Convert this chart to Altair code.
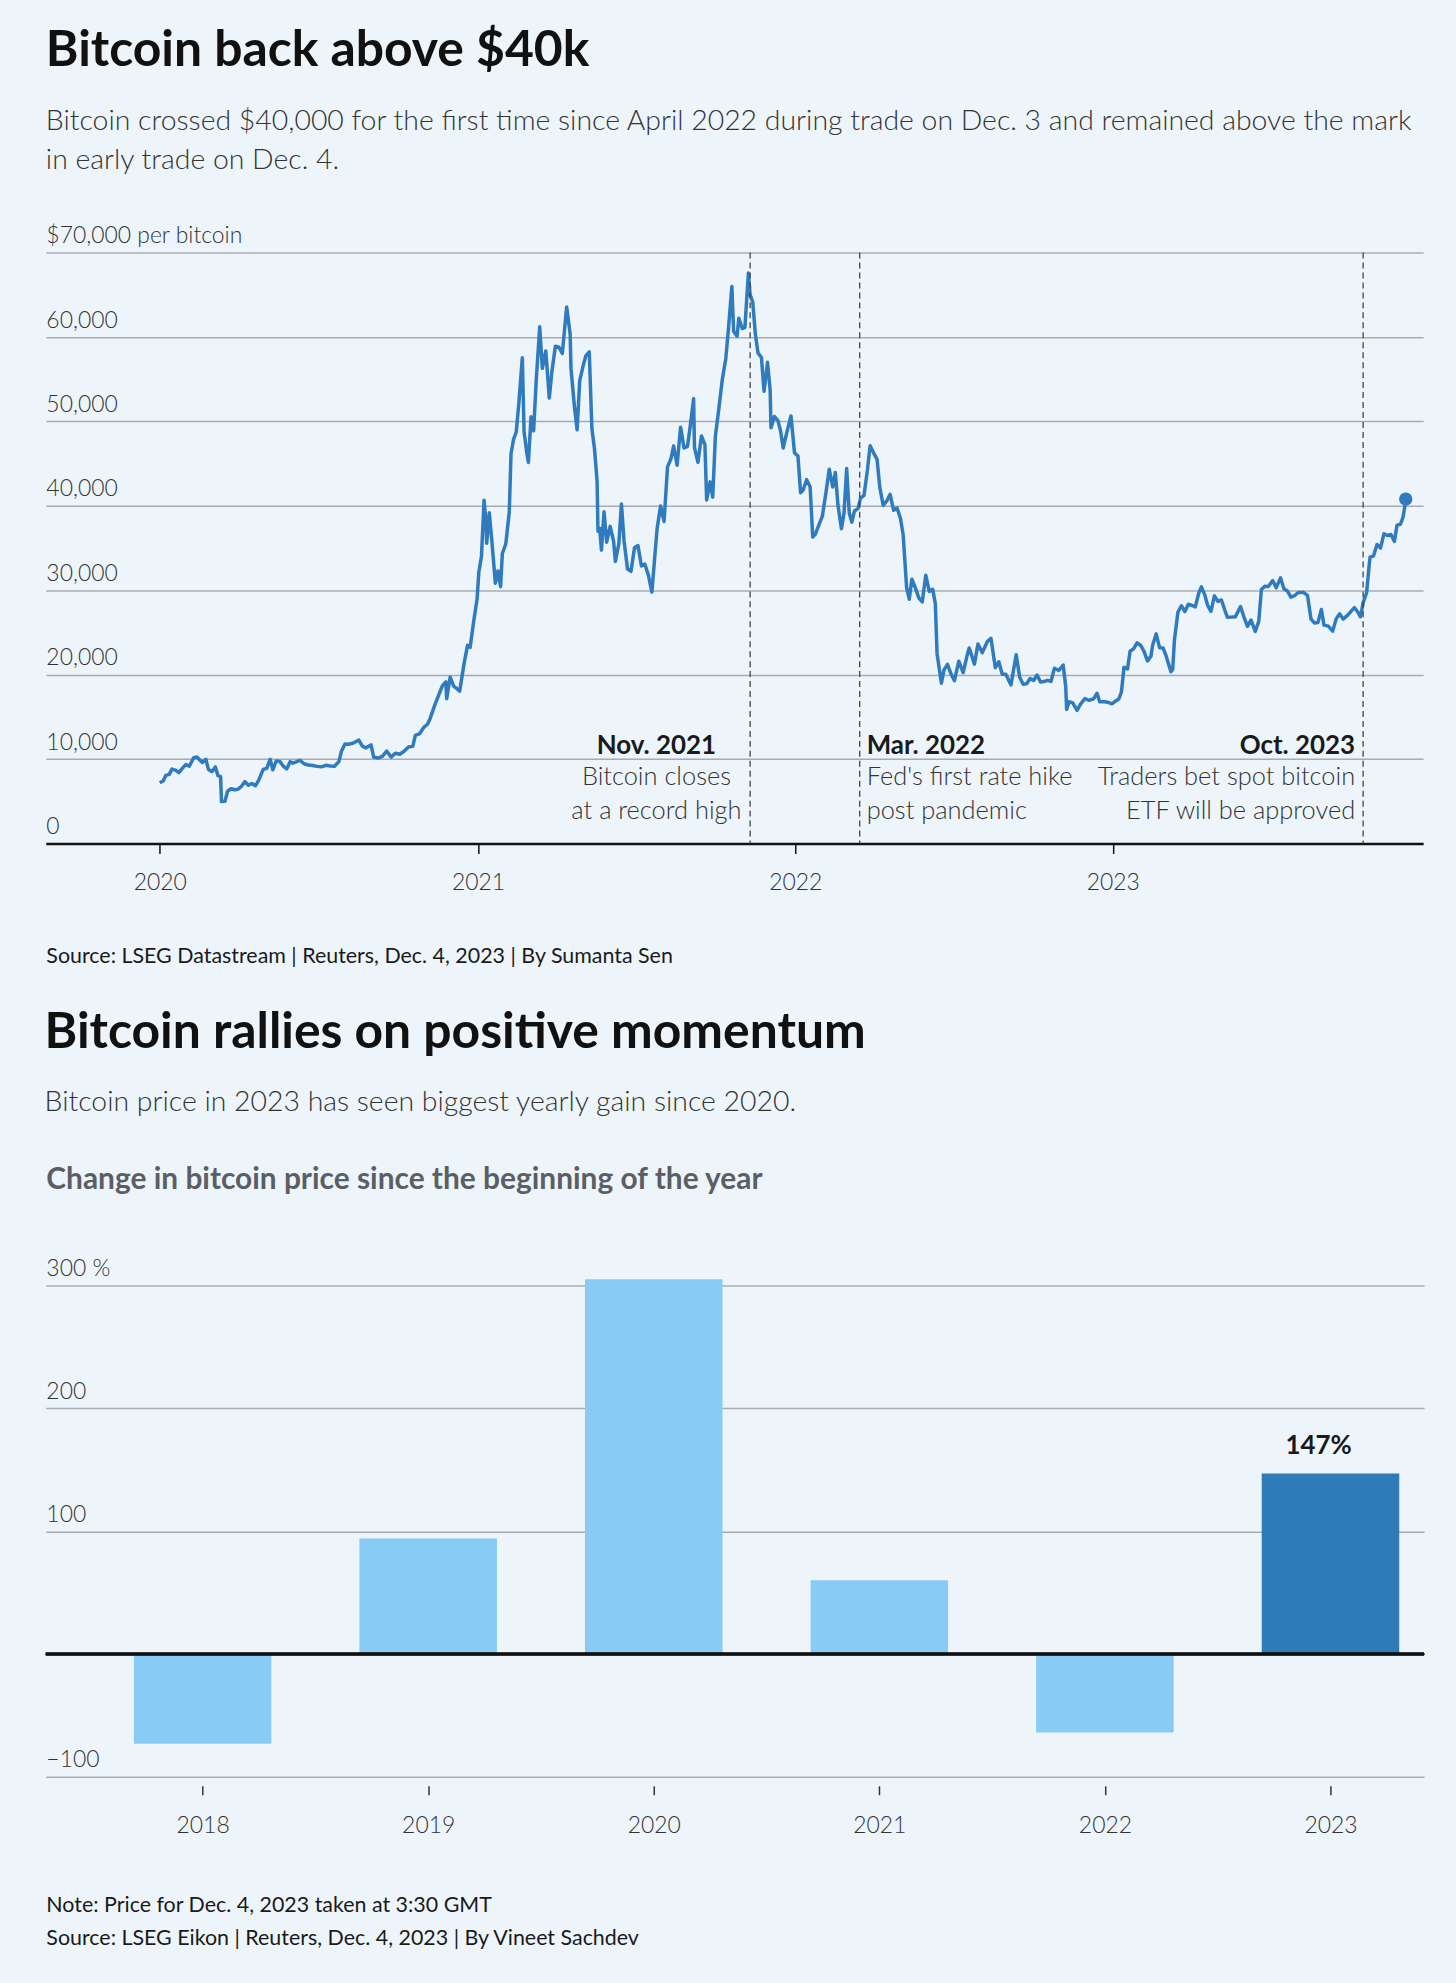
import altair as alt
import pandas as pd

# ---------------- Bitcoin price (USD), 2020 - Dec. 4, 2023 ----------------
price_dates = [
    "2020-01-01", "2020-01-05", "2020-01-08", "2020-01-12", "2020-01-15", "2020-01-19", "2020-01-23",
    "2020-01-27", "2020-01-31", "2020-02-04", "2020-02-09", "2020-02-13", "2020-02-16", "2020-02-19",
    "2020-02-23", "2020-02-26", "2020-03-01", "2020-03-05", "2020-03-08", "2020-03-11", "2020-03-12",
    "2020-03-16", "2020-03-19", "2020-03-23", "2020-03-27", "2020-03-31", "2020-04-04", "2020-04-08",
    "2020-04-12", "2020-04-16", "2020-04-20", "2020-04-24", "2020-04-29", "2020-05-03", "2020-05-07",
    "2020-05-10", "2020-05-14", "2020-05-18", "2020-05-22", "2020-05-26", "2020-05-30", "2020-06-02",
    "2020-06-06", "2020-06-10", "2020-06-15", "2020-06-20", "2020-06-25", "2020-06-30", "2020-07-05",
    "2020-07-10", "2020-07-15", "2020-07-20", "2020-07-25", "2020-07-28", "2020-08-01", "2020-08-05",
    "2020-08-10", "2020-08-17", "2020-08-21", "2020-08-25", "2020-08-31", "2020-09-03", "2020-09-08",
    "2020-09-13", "2020-09-18", "2020-09-23", "2020-09-28", "2020-10-03", "2020-10-08", "2020-10-13",
    "2020-10-18", "2020-10-21", "2020-10-26", "2020-10-31", "2020-11-04", "2020-11-07", "2020-11-12",
    "2020-11-17", "2020-11-21", "2020-11-25", "2020-11-26", "2020-11-30", "2020-12-04", "2020-12-08",
    "2020-12-11", "2020-12-16", "2020-12-20", "2020-12-23", "2020-12-27", "2020-12-31",
    "2021-01-02", "2021-01-05", "2021-01-08", "2021-01-10", "2021-01-11", "2021-01-14", "2021-01-17",
    "2021-01-21", "2021-01-24", "2021-01-27", "2021-01-29", "2021-02-02", "2021-02-06", "2021-02-08",
    "2021-02-11", "2021-02-14", "2021-02-17", "2021-02-21", "2021-02-23", "2021-02-26", "2021-02-28",
    "2021-03-03", "2021-03-06", "2021-03-09", "2021-03-13", "2021-03-16", "2021-03-20", "2021-03-24",
    "2021-03-27", "2021-03-31", "2021-04-04", "2021-04-08", "2021-04-13", "2021-04-17", "2021-04-18",
    "2021-04-22", "2021-04-25", "2021-04-28", "2021-05-02", "2021-05-05", "2021-05-09", "2021-05-12",
    "2021-05-15", "2021-05-18", "2021-05-19", "2021-05-21", "2021-05-23", "2021-05-26", "2021-05-29",
    "2021-06-02", "2021-06-06", "2021-06-08", "2021-06-12", "2021-06-15", "2021-06-18", "2021-06-22",
    "2021-06-26", "2021-06-30", "2021-07-04", "2021-07-08", "2021-07-12", "2021-07-16", "2021-07-20",
    "2021-07-23", "2021-07-26", "2021-07-30", "2021-08-03", "2021-08-07", "2021-08-11", "2021-08-14",
    "2021-08-18", "2021-08-22", "2021-08-26", "2021-08-30", "2021-09-02", "2021-09-06", "2021-09-07",
    "2021-09-11", "2021-09-15", "2021-09-19", "2021-09-21", "2021-09-25", "2021-09-28", "2021-10-01",
    "2021-10-05", "2021-10-09", "2021-10-13", "2021-10-16", "2021-10-20", "2021-10-22", "2021-10-26",
    "2021-10-28", "2021-11-01", "2021-11-04", "2021-11-08", "2021-11-10", "2021-11-13", "2021-11-16",
    "2021-11-19", "2021-11-23", "2021-11-26", "2021-11-30", "2021-12-03", "2021-12-04", "2021-12-08",
    "2021-12-12", "2021-12-15", "2021-12-18", "2021-12-22", "2021-12-27", "2021-12-31",
    "2022-01-04", "2022-01-07", "2022-01-10", "2022-01-14", "2022-01-18", "2022-01-21", "2022-01-24",
    "2022-01-28", "2022-02-01", "2022-02-05", "2022-02-09", "2022-02-13", "2022-02-16", "2022-02-19",
    "2022-02-23", "2022-02-26", "2022-03-01", "2022-03-04", "2022-03-07", "2022-03-10", "2022-03-14",
    "2022-03-17", "2022-03-21", "2022-03-25", "2022-03-28", "2022-04-01", "2022-04-05", "2022-04-08",
    "2022-04-12", "2022-04-16", "2022-04-20", "2022-04-24", "2022-04-28", "2022-05-02", "2022-05-05",
    "2022-05-09", "2022-05-12", "2022-05-15", "2022-05-19", "2022-05-23", "2022-05-27", "2022-05-31",
    "2022-06-04", "2022-06-08", "2022-06-11", "2022-06-13", "2022-06-16", "2022-06-18", "2022-06-21",
    "2022-06-25", "2022-06-29", "2022-07-03", "2022-07-08", "2022-07-13", "2022-07-18", "2022-07-20",
    "2022-07-26", "2022-07-30", "2022-08-04", "2022-08-10", "2022-08-14", "2022-08-19", "2022-08-23",
    "2022-08-27", "2022-08-31", "2022-09-06", "2022-09-12", "2022-09-16", "2022-09-20", "2022-09-24",
    "2022-09-28", "2022-10-02", "2022-10-06", "2022-10-10", "2022-10-14", "2022-10-18", "2022-10-22",
    "2022-10-26", "2022-10-31", "2022-11-05", "2022-11-08", "2022-11-09", "2022-11-12", "2022-11-16",
    "2022-11-21", "2022-11-25", "2022-11-30", "2022-12-05", "2022-12-10", "2022-12-14", "2022-12-17",
    "2022-12-22", "2022-12-27", "2022-12-31",
    "2023-01-04", "2023-01-08", "2023-01-11", "2023-01-14", "2023-01-18", "2023-01-21", "2023-01-25",
    "2023-01-29", "2023-02-02", "2023-02-06", "2023-02-10", "2023-02-14", "2023-02-16", "2023-02-20",
    "2023-02-24", "2023-02-28", "2023-03-03", "2023-03-09", "2023-03-11", "2023-03-13", "2023-03-17",
    "2023-03-21", "2023-03-25", "2023-03-29", "2023-04-02", "2023-04-06", "2023-04-10", "2023-04-13",
    "2023-04-17", "2023-04-20", "2023-04-24", "2023-04-28", "2023-05-02", "2023-05-06", "2023-05-10",
    "2023-05-13", "2023-05-18", "2023-05-22", "2023-05-28", "2023-06-01", "2023-06-05", "2023-06-09",
    "2023-06-14", "2023-06-18", "2023-06-21", "2023-06-25", "2023-06-29", "2023-07-04", "2023-07-08",
    "2023-07-13", "2023-07-17", "2023-07-21", "2023-07-25", "2023-07-29", "2023-08-02", "2023-08-08",
    "2023-08-13", "2023-08-17", "2023-08-21", "2023-08-25", "2023-08-29", "2023-09-01", "2023-09-06",
    "2023-09-11", "2023-09-15", "2023-09-19", "2023-09-23", "2023-09-28", "2023-10-02", "2023-10-06",
    "2023-10-10", "2023-10-13", "2023-10-16", "2023-10-20", "2023-10-23", "2023-10-24", "2023-10-28",
    "2023-11-01", "2023-11-05", "2023-11-09", "2023-11-13", "2023-11-17", "2023-11-21", "2023-11-24",
    "2023-11-28", "2023-12-01", "2023-12-03", "2023-12-04",
]
price_usd = [
    7200, 7410, 8080, 8190, 8820, 8700, 8390,
    8900, 9350, 9160, 10160, 10240, 9900, 9600,
    9980, 8780, 8520, 9070, 8040, 7930, 4970,
    5010, 6190, 6490, 6370, 6440, 6780, 7330,
    6910, 7100, 6840, 7550, 8780, 8900, 9980,
    8720, 9790, 9730, 9180, 8840, 9700, 9520,
    9670, 9870, 9450, 9300, 9250, 9140, 9080,
    9270, 9190, 9160, 9700, 10930, 11800, 11760,
    11880, 12250, 11530, 11330, 11680, 10240, 10130,
    10330, 10950, 10240, 10700, 10570, 10930, 11430,
    11510, 12820, 13030, 13800, 14130, 14820, 16300,
    17650, 18680, 19150, 17150, 19700, 18650, 18320,
    18060, 21310, 23480, 23240, 26270, 28990,
    32170, 33990, 40670, 38350, 35570, 39190, 35790,
    30830, 32290, 30430, 34320, 35510, 39270, 46200,
    47910, 48720, 52150, 57540, 48820, 46340, 45140,
    50540, 48880, 54880, 61200, 56290, 58350, 52770,
    55880, 58910, 58790, 58050, 63550, 60370, 56220,
    51700, 49000, 54830, 56620, 57750, 58250, 49150,
    46760, 42910, 37000, 37340, 34770, 39290, 35690,
    37570, 35800, 33420, 35500, 40220, 35840, 32510,
    32240, 35040, 35290, 32880, 33090, 31780, 29790,
    33580, 37280, 39990, 38150, 44610, 45590, 47080,
    44800, 49320, 46850, 47050, 49330, 52700, 46870,
    45160, 48270, 47260, 40690, 42840, 41030, 48200,
    51510, 54970, 57430, 60860, 65990, 60690, 60100,
    62210, 61000, 61130, 67570, 64990, 64160, 60370,
    58120, 57570, 53570, 57000, 53740, 49250, 50580,
    50100, 48880, 46850, 48620, 50640, 46300,
    45900, 41560, 41870, 43100, 42250, 36300, 36650,
    37710, 38740, 41410, 44340, 42240, 43940, 40090,
    37300, 39140, 44420, 39150, 38060, 39390, 39670,
    40920, 41250, 44330, 47130, 46280, 45500, 42280,
    40070, 40550, 41370, 39470, 39740, 38470, 36550,
    30300, 28940, 31300, 30300, 29100, 28630, 31790,
    29860, 30110, 28420, 22490, 20380, 19000, 20570,
    21230, 20100, 19300, 21600, 20250, 22470, 23170,
    21250, 23630, 22610, 23960, 24310, 20830, 21530,
    20040, 20050, 18790, 22370, 19700, 18870, 18920,
    19540, 19310, 19960, 19130, 19180, 19330, 19200,
    20770, 20500, 21150, 18540, 15880, 16800, 16670,
    15780, 16520, 17170, 16970, 17130, 17800, 16780,
    16830, 16710, 16550,
    16850, 17120, 17940, 20880, 20680, 22780, 23060,
    23770, 23490, 22760, 21630, 22200, 23520, 24830,
    23180, 23150, 22350, 20360, 20630, 24110, 27400,
    28170, 27480, 28350, 28200, 28030, 29670, 30400,
    29430, 28250, 27510, 29340, 28680, 28850, 27630,
    26800, 26820, 26850, 28070, 26820, 25730, 26480,
    25120, 26340, 30080, 30480, 30450, 31150, 30290,
    31470, 30140, 29900, 29180, 29350, 29700, 29770,
    29400, 26620, 26120, 26170, 27730, 25870, 25750,
    25160, 26610, 27210, 26580, 27030, 27500, 27950,
    27390, 26860, 28500, 29700, 33000, 33930, 34080,
    35420, 35010, 36700, 36490, 36600, 35790, 37720,
    37820, 38690, 39970, 40800,
]

# Event annotations on the price chart
event_dates = ["2021-11-10", "2022-03-16", "2023-10-16"]
event_heads = ["Nov. 2021", "Mar. 2022", "Oct. 2023"]
event_notes = [
    ["Bitcoin closes", "at a record high"],
    ["Fed's first rate hike", "post pandemic"],
    ["Traders bet spot bitcoin", "ETF will be approved"],
]

price_ticks = [0, 10000, 20000, 30000, 40000, 50000, 60000, 70000]
year_starts = [2020, 2021, 2022, 2023]

# ---------------- Yearly change (%) ----------------
bar_years = [2018, 2019, 2020, 2021, 2022, 2023]
bar_change = [-73, 94, 305, 60, -64, 147]
change_ticks = [-100, 0, 100, 200, 300]

# ---------------- Styling ----------------
FONT = "Lato"
BG = "#edf5fb"
LINE_BLUE = "#2f7bbd"
LIGHT_BAR = "#88cbf5"
DARK_BAR = "#2e7bb8"
GRID = "#a7acb1"
INK = "#1a1a1a"
TEXT = "#333333"

W1, H1 = 1382, 593
W2, H2 = 1383, 493

price_df = pd.DataFrame({"date": price_dates, "price": price_usd})
last_df = price_df.tail(1)
events_df = pd.DataFrame({"date": event_dates, "head": event_heads,
                          "note": event_notes})
bars_df = pd.DataFrame({"year": bar_years, "change": bar_change})
bars_df["label"] = bars_df["change"].astype(str) + "%"

x_time = alt.X(
    "date:T",
    scale=alt.Scale(domain=["2019-08-23", "2023-12-24"], padding=0),
    axis=alt.Axis(
        values=[alt.DateTime(year=y, month=1, date=1) for y in year_starts],
        format="%Y", grid=False, domain=True, domainColor="#111111", domainWidth=2.5,
        ticks=True, tickSize=10, tickColor="#111111", tickWidth=1.5,
        labelFont=FONT, labelFontSize=23, labelFontWeight=300, labelColor=TEXT,
        labelPadding=18,
        title="Source: LSEG Datastream | Reuters, Dec. 4, 2023 | By Sumanta Sen",
        titleFont=FONT, titleFontSize=21.5, titleFontWeight="normal", titleColor=INK,
        titleAnchor="start", titleAlign="left", titleBaseline="alphabetic",
        titleX=0, titleY=119,
    ),
)
y_price = alt.Y(
    "price:Q",
    scale=alt.Scale(domain=[0, 70000], nice=False),
    axis=alt.Axis(
        values=price_ticks, grid=True, gridColor=GRID, gridWidth=1.5,
        domain=False, ticks=False, tickSize=0,
        labelAlign="left", labelBaseline="alphabetic", labelOffset=-10, labelPadding=0,
        labelLimit=0,
        labelFont=FONT, labelFontSize=23, labelFontWeight=300, labelColor=TEXT,
        labelExpr="datum.value == 70000 ? '$70,000 per bitcoin' : format(datum.value, ',')",
        title=None,
    ),
)

price_line = alt.Chart(price_df).mark_line(
    color=LINE_BLUE, strokeWidth=3.5, strokeJoin="round"
).encode(x=x_time, y=y_price)

end_dot = alt.Chart(last_df).mark_circle(color=LINE_BLUE, size=180, opacity=1).encode(
    x="date:T", y="price:Q"
)

event_rules = alt.Chart(events_df).mark_rule(
    color="#444444", strokeWidth=1.3, strokeDash=[6, 4]
).encode(x="date:T")

# text placement for each event: alignment and offset from its dashed line
event_style = [("center", -94), ("left", 7), ("right", -8)]
notes = []
for i, (align, dx) in enumerate(event_style):
    one = alt.Chart(events_df.iloc[[i]])
    notes.append(one.mark_text(
        align=align, dx=dx, baseline="alphabetic", font=FONT, fontSize=26,
        fontWeight="bold", color=INK
    ).encode(x="date:T", y=alt.value(503), text="head:N"))
    notes.append(one.mark_text(
        align=align, dx=dx, baseline="alphabetic", font=FONT, fontSize=25.5,
        fontWeight=300, color=TEXT, lineHeight=34
    ).encode(x="date:T", y=alt.value(534), text="note"))

price_chart = alt.layer(price_line, event_rules, *notes, end_dot).properties(
    width=W1, height=H1,
    title=alt.TitleParams(
        text="Bitcoin back above $40k",
        subtitle=["Bitcoin crossed $40,000 for the first time since April 2022 during trade on Dec. 3 and remained above the mark",
                  "in early trade on Dec. 4."],
        anchor="start", font=FONT, fontSize=50, fontWeight="bold", color="#111111",
        subtitleFont=FONT, subtitleFontSize=28.5, subtitleFontWeight=300,
        subtitleColor=TEXT, subtitleLineHeight=39, subtitlePadding=32, offset=50,
    ),
)

# ---------------- Bar chart ----------------
x_year = alt.X(
    "year:Q",
    scale=alt.Scale(domain=[2017.305, 2023.415], nice=False, zero=False, padding=0),
    axis=alt.Axis(
        values=bar_years, format="d", grid=False, domain=False,
        ticks=True, tickSize=9, tickColor="#333333", tickWidth=1.5, offset=9,
        labelFont=FONT, labelFontSize=23, labelFontWeight=300, labelColor=TEXT,
        labelPadding=20,
        title=["Note: Price for Dec. 4, 2023 taken at 3:30 GMT",
               "Source: LSEG Eikon | Reuters, Dec. 4, 2023 | By Vineet Sachdev"],
        titleFont=FONT, titleFontSize=21.5, titleFontWeight="normal", titleColor=INK,
        titleAnchor="start", titleAlign="left", titleBaseline="alphabetic",
        titleLineHeight=33, titleX=0, titleY=126,
    ),
)
y_change = alt.Y(
    "change:Q",
    scale=alt.Scale(domain=[-100, 300], nice=False),
    axis=alt.Axis(
        values=change_ticks, grid=True, gridColor=GRID, gridWidth=1.5,
        domain=False, ticks=False, tickSize=0,
        labelAlign="left", labelBaseline="alphabetic", labelOffset=-10, labelPadding=0,
        labelLimit=0,
        labelFont=FONT, labelFontSize=23, labelFontWeight=300, labelColor=TEXT,
        labelExpr="datum.value == 300 ? '300 %' : datum.value == 0 ? '' : datum.value < 0 ? '\u2212' + format(-datum.value, 'd') : format(datum.value, 'd')",
        title="Change in bitcoin price since the beginning of the year",
        titleAngle=0, titleAlign="left", titleBaseline="alphabetic", titleLimit=0,
        titleX=0, titleY=-97, titleFont=FONT, titleFontSize=30, titleFontWeight="bold",
        titleColor="#5b5f63",
    ),
)

bars = alt.Chart(bars_df).mark_bar(size=138).encode(
    x=x_year, y=y_change,
    color=alt.condition(alt.datum.year == 2023, alt.value(DARK_BAR), alt.value(LIGHT_BAR)),
)
zero_line = alt.Chart(bars_df).mark_rule(color="#111111", strokeWidth=2.5).encode(
    y=alt.datum(0)
)
bar_label = alt.Chart(bars_df).transform_filter(alt.datum.year == 2023).mark_text(
    font=FONT, fontSize=26, fontWeight="bold", color=INK, baseline="alphabetic", dy=-20, dx=-12
).encode(x="year:Q", y="change:Q", text="label:N")

change_chart = alt.layer(bars, zero_line, bar_label).properties(
    width=W2, height=H2,
    title=alt.TitleParams(
        text="Bitcoin rallies on positive momentum",
        subtitle="Bitcoin price in 2023 has seen biggest yearly gain since 2020.",
        anchor="start", font=FONT, fontSize=50, fontWeight="bold", color="#111111",
        subtitleFont=FONT, subtitleFontSize=28.5, subtitleFontWeight=300,
        subtitleColor=TEXT, subtitlePadding=29.5, offset=49,
    ),
)

chart = alt.vconcat(price_chart, change_chart, spacing=41.5).properties(
    background=BG,
    padding={"left": 44, "top": 22, "right": 30, "bottom": 45},
).configure_view(stroke=None)

chart.save("out.html", embed_options={"renderer": "svg", "actions": False})
